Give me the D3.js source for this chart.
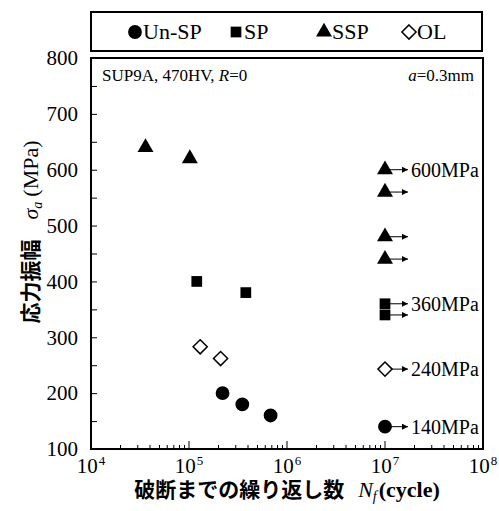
<!DOCTYPE html>
<html>
<head>
<meta charset="utf-8">
<script src="https://cdn.jsdelivr.net/npm/d3@7"></script>
<style>
  body { margin: 0; background: #fff; }
  text { font-family: "Liberation Serif", "Times New Roman", serif; fill: #000; }
  .jp { font-family: "Noto Sans CJK JP", sans-serif; font-weight: bold; }
</style>
</head>
<body>
<div id="chart"></div>
<script>
// fatigue data: [cycles, stress MPa]
var unSP = [[2.2e5, 200], [3.5e5, 180], [6.8e5, 160]];
var sp = [[1.2e5, 400], [3.8e5, 380]];
var ssp = [[3.6e4, 640], [1.02e5, 620]];
var ol = [[1.3e5, 283], [2.1e5, 262]];

// run-outs (no failure) at 1e7
var runoutUnSP = [[1e7, 140]];
var runoutSP = [[1e7, 360], [1e7, 340]];
var runoutSSP = [[1e7, 600], [1e7, 560], [1e7, 480], [1e7, 440]];
var runoutOL = [[1e7, 243]];

var runoutLabels = [[1e7, 600, "600MPa"], [1e7, 360, "360MPa"], [1e7, 243, "240MPa"], [1e7, 140, "140MPa"]];

var yTicks = [100, 200, 300, 400, 500, 600, 700, 800];
var xTicks = [4, 5, 6, 7, 8];
var legendItems = ["Un-SP", "SP", "SSP", "OL"];

var width = 499, height = 511;
var margin = {left: 91, right: 16, top: 58, bottom: 62};

var svg = d3.select("#chart").append("svg")
  .attr("width", width)
  .attr("height", height);

var x = d3.scaleLog()
  .domain([1e4, 1e8])
  .range([margin.left, width - margin.right]);

var y = d3.scaleLinear()
  .domain([100, 800])
  .range([height - margin.bottom, margin.top]);

// square turned 45 degrees
var diamond = {
  draw: function(ctx, size) {
    var r = Math.sqrt(size / 2);
    ctx.moveTo(0, -r);
    ctx.lineTo(r, 0);
    ctx.lineTo(0, r);
    ctx.lineTo(-r, 0);
    ctx.closePath();
  }
};

var symbols = {
  "Un-SP": d3.symbol().type(d3.symbolCircle).size(150),
  "SP": d3.symbol().type(d3.symbolSquare).size(115),
  "SSP": d3.symbol().type(d3.symbolTriangle).size(110),
  "OL": d3.symbol().type(diamond).size(100)
};

// plot frame
svg.append("rect")
  .attr("x", x.range()[0])
  .attr("y", y.range()[1])
  .attr("width", x.range()[1] - x.range()[0])
  .attr("height", y.range()[0] - y.range()[1])
  .attr("fill", "none")
  .attr("stroke", "#000")
  .attr("stroke-width", 2);

// y axis (ticks inside)
var yAxis = d3.axisLeft(y)
  .tickValues(d3.range(100, 801, 50))
  .tickSize(-6)
  .tickFormat(function(d) { return yTicks.indexOf(d) >= 0 ? d : ""; });

var gy = svg.append("g")
  .attr("transform", "translate(" + margin.left + ",0)")
  .call(yAxis);
gy.select(".domain").remove();
gy.selectAll(".tick line").attr("stroke-width", 1);
gy.selectAll(".tick text")
  .attr("x", -13)
  .style("font-size", "21px")
  .style("font-family", "Liberation Serif");

// x axis log ticks (inside)
var minor = [];
for (var e = 4; e < 8; e++) {
  for (var m = 2; m <= 9; m++) minor.push(m * Math.pow(10, e));
}
var gx = svg.append("g")
  .attr("transform", "translate(0," + (height - margin.bottom) + ")");
gx.selectAll(".minor")
  .data(minor)
  .enter().append("line")
  .attr("x1", function(d) { return x(d); })
  .attr("x2", function(d) { return x(d); })
  .attr("y1", 0)
  .attr("y2", -4)
  .attr("stroke", "#000");
gx.selectAll(".major")
  .data(xTicks.slice(1, 4))
  .enter().append("line")
  .attr("x1", function(d) { return x(Math.pow(10, d)); })
  .attr("x2", function(d) { return x(Math.pow(10, d)); })
  .attr("y1", 0)
  .attr("y2", -8)
  .attr("stroke", "#000");

var xl = gx.selectAll(".xlab")
  .data(xTicks)
  .enter().append("text")
  .attr("x", function(d) { return x(Math.pow(10, d)); })
  .attr("y", 24)
  .attr("text-anchor", "middle")
  .style("font-size", "21px");
xl.append("tspan").text("10");
xl.append("tspan")
  .attr("dy", -8)
  .attr("dx", 1)
  .style("font-size", "13px")
  .text(function(d) { return d; });

// axis titles
var yt = svg.append("text")
  .attr("transform", "translate(38,232) rotate(-90)")
  .attr("text-anchor", "middle");
yt.append("tspan").attr("class", "jp").style("font-size", "21px").text("応力振幅");
yt.append("tspan").attr("dx", 20).style("font-size", "22px").style("font-style", "italic").text("σ");
yt.append("tspan").style("font-size", "14px").style("font-style", "italic").attr("dy", 4).text("a");
yt.append("tspan").attr("dx", 5).style("font-size", "22px").attr("dy", -4).text("(MPa)");

var xt = svg.append("text")
  .attr("x", 287)
  .attr("y", 497)
  .attr("text-anchor", "middle");
xt.append("tspan").attr("class", "jp").style("font-size", "21px").text("破断までの繰り返し数");
xt.append("tspan").attr("dx", 14).style("font-size", "22px").style("font-style", "italic").text("N");
xt.append("tspan").style("font-size", "14px").style("font-style", "italic").attr("dy", 4).text("f");
xt.append("tspan").attr("dx", 2).style("font-size", "22px").style("font-weight", "bold").attr("dy", -4).text("(cycle)");

// annotations
var ann = svg.append("text")
  .attr("x", 102)
  .attr("y", 81)
  .style("font-size", "17px");
ann.append("tspan").text("SUP9A, 470HV, ");
ann.append("tspan").style("font-style", "italic").text("R");
ann.append("tspan").text("=0");

var ann2 = svg.append("text")
  .attr("x", 474)
  .attr("y", 81)
  .attr("text-anchor", "end")
  .style("font-size", "17px");
ann2.append("tspan").style("font-style", "italic").text("a");
ann2.append("tspan").text("=0.3mm");

// arrow marker
svg.append("defs").append("marker")
  .attr("id", "arrow")
  .attr("viewBox", "0 0 10 10")
  .attr("refX", 10)
  .attr("refY", 5)
  .attr("markerWidth", 6)
  .attr("markerHeight", 6)
  .attr("markerUnits", "userSpaceOnUse")
  .attr("orient", "auto")
  .append("path")
  .attr("d", "M0,0L10,5L0,10Z")
  .attr("fill", "#000");

var runouts = runoutUnSP.concat(runoutSP, runoutSSP, runoutOL);
svg.selectAll(".runout")
  .data(runouts)
  .enter().append("line")
  .attr("x1", function(d) { return x(d[0]); })
  .attr("x2", function(d) { return x(d[0]) + 23; })
  .attr("y1", function(d) { return y(d[1]); })
  .attr("y2", function(d) { return y(d[1]); })
  .attr("stroke", "#000")
  .attr("stroke-width", 1)
  .attr("marker-end", "url(#arrow)");

svg.selectAll(".rlab")
  .data(runoutLabels)
  .enter().append("text")
  .attr("x", function(d) { return x(d[0]) + 26; })
  .attr("y", function(d) { return y(d[1]) + 7; })
  .style("font-size", "20px")
  .text(function(d) { return d[2]; });

// data points
function drawPoints(data, key, filled) {
  svg.append("g").selectAll("path")
    .data(data)
    .enter().append("path")
    .attr("d", symbols[key])
    .attr("transform", function(d) { return "translate(" + x(d[0]) + "," + y(d[1]) + ")"; })
    .attr("fill", filled ? "#000" : "#fff")
    .attr("stroke", "#000")
    .attr("stroke-width", filled ? 0 : 1.5);
}
drawPoints(unSP.concat(runoutUnSP), "Un-SP", true);
drawPoints(sp.concat(runoutSP), "SP", true);
drawPoints(ssp.concat(runoutSSP), "SSP", true);
drawPoints(ol.concat(runoutOL), "OL", false);

// legend
svg.append("rect")
  .attr("x", 91)
  .attr("y", 12)
  .attr("width", 391)
  .attr("height", 39)
  .attr("fill", "none")
  .attr("stroke", "#000")
  .attr("stroke-width", 2);

var legendX = [135, 236, 324, 409];
var lg = svg.selectAll(".leg")
  .data(legendItems)
  .enter().append("g")
  .attr("transform", function(d, i) { return "translate(" + legendX[i] + ",32)"; });
lg.append("path")
  .attr("d", function(d) { return symbols[d](); })
  .attr("fill", function(d) { return d === "OL" ? "#fff" : "#000"; })
  .attr("stroke", "#000")
  .attr("stroke-width", function(d) { return d === "OL" ? 1.5 : 0; });
lg.append("text")
  .attr("x", 8)
  .attr("y", 7)
  .style("font-size", "22px")
  .text(function(d) { return d; });
</script>
</body>
</html>
